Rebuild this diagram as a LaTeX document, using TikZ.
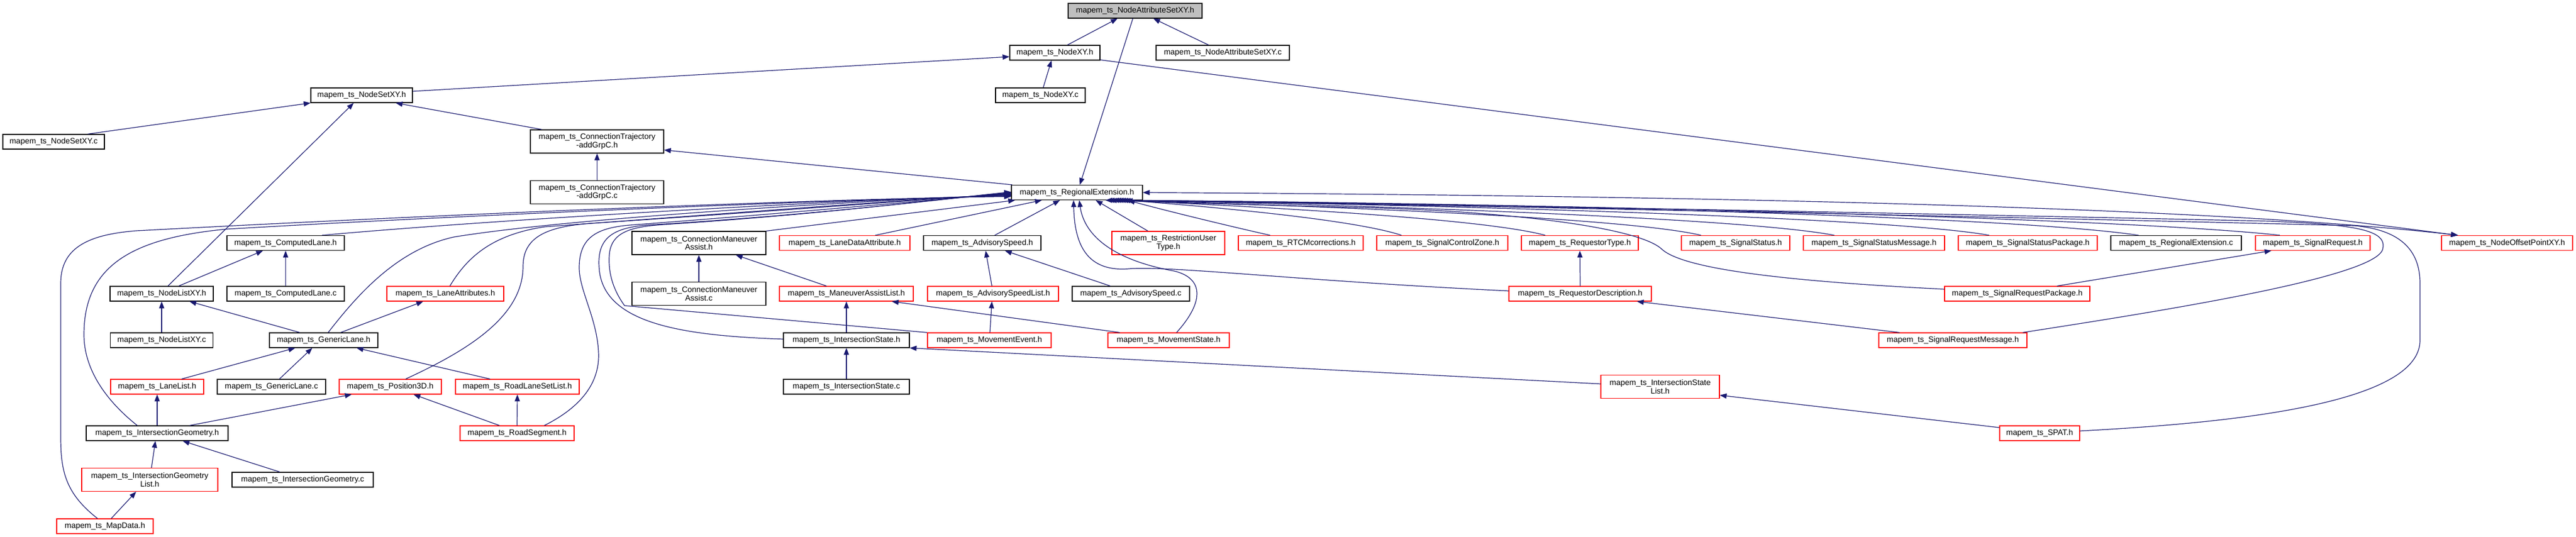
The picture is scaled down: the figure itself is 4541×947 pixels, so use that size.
\documentclass[tikz,border=0pt]{standalone}
\usepackage{fontspec}
\setmainfont{Liberation Sans}
\usetikzlibrary{arrows.meta}
\definecolor{edgeblue}{HTML}{191970}
\definecolor{rootgray}{HTML}{BFBFBF}
\begin{document}
\begin{tikzpicture}[x=1pt,y=-1pt,
  box/.style={rectangle, draw, line width=1.2pt, inner xsep=2pt, inner ysep=0pt, minimum height=26pt, align=center, font=\fontsize{14}{14.5}\selectfont, text=black},
  blk/.style={box, draw=black},
  trunc/.style={box, draw=red},
  tall/.style={minimum height=41pt},
  edge/.style={draw=edgeblue, line width=1.2pt, -{Triangle[length=12pt,width=9pt]}},
  bedge/.style={draw=edgeblue, line width=1.2pt, {Triangle[length=12pt,width=9pt]}-{Triangle[length=12pt,width=9pt]}}
  ]
\useasboundingbox (0,0) rectangle (4541,947);
% nodes
\node[blk, fill=rootgray, minimum width=236pt] (root) at (2001,19) {mapem\_ts\_NodeAttributeSetXY.h};
\node[blk, minimum width=159pt] (nodexyh) at (1859.5,93) {mapem\_ts\_NodeXY.h};
\node[blk, minimum width=235pt] (nasxyc) at (2155.5,93) {mapem\_ts\_NodeAttributeSetXY.c};
\node[blk, minimum width=158pt] (nodexyc) at (1834,168) {mapem\_ts\_NodeXY.c};
\node[blk, minimum width=179pt] (nodesetxyh) at (637.5,168) {mapem\_ts\_NodeSetXY.h};
\node[blk, minimum width=179pt] (nodesetxyc) at (94.5,250) {mapem\_ts\_NodeSetXY.c};
\node[blk, tall, minimum width=235pt] (ctrajh) at (1052.5,249.5) {mapem\_ts\_ConnectionTrajectory\\-addGrpC.h};
\node[blk, tall, minimum width=235pt] (ctrajc) at (1052.5,339) {mapem\_ts\_ConnectionTrajectory\\-addGrpC.c};
\node[blk, minimum width=231pt] (regh) at (1898.5,339.5) {mapem\_ts\_RegionalExtension.h};
% row 6
\node[blk, minimum width=207pt] (complaneh) at (503.5,428.5) {mapem\_ts\_ComputedLane.h};
\node[blk, tall, minimum width=236pt] (cmah) at (1232,428.5) {mapem\_ts\_ConnectionManeuver\\Assist.h};
\node[trunc, minimum width=230pt] (ldah) at (1489,428.5) {mapem\_ts\_LaneDataAttribute.h};
\node[blk, minimum width=207pt] (advh) at (1731.5,428.5) {mapem\_ts\_AdvisorySpeed.h};
\node[trunc, tall, minimum width=199pt] (rut) at (2059.5,428.5) {mapem\_ts\_RestrictionUser\\Type.h};
\node[trunc, minimum width=220pt] (rtcm) at (2293,428.5) {mapem\_ts\_RTCMcorrections.h};
\node[trunc, minimum width=231pt] (scz) at (2542.5,428.5) {mapem\_ts\_SignalControlZone.h};
\node[trunc, minimum width=206pt] (rqt) at (2785,428.5) {mapem\_ts\_RequestorType.h};
\node[trunc, minimum width=191pt] (sst) at (3059.5,428.5) {mapem\_ts\_SignalStatus.h};
\node[trunc, minimum width=249pt] (ssm) at (3303.5,428.5) {mapem\_ts\_SignalStatusMessage.h};
\node[trunc, minimum width=245pt] (ssp) at (3574.5,428.5) {mapem\_ts\_SignalStatusPackage.h};
\node[blk, minimum width=230pt] (regc) at (3836,428.5) {mapem\_ts\_RegionalExtension.c};
\node[trunc, minimum width=202pt] (sreq) at (4077,428.5) {mapem\_ts\_SignalRequest.h};
\node[trunc, minimum width=231pt] (nop) at (4419.5,428.5) {mapem\_ts\_NodeOffsetPointXY.h};
% row 7
\node[blk, minimum width=182pt] (nlxyh) at (285,518) {mapem\_ts\_NodeListXY.h};
\node[blk, minimum width=207pt] (complanec) at (503.5,518) {mapem\_ts\_ComputedLane.c};
\node[trunc, minimum width=206pt] (lattr) at (785,518) {mapem\_ts\_LaneAttributes.h};
\node[blk, tall, minimum width=236pt] (cmac) at (1232,518) {mapem\_ts\_ConnectionManeuver\\Assist.c};
\node[trunc, minimum width=236pt] (mal) at (1492,518) {mapem\_ts\_ManeuverAssistList.h};
\node[trunc, minimum width=231pt] (asl) at (1750.5,518) {mapem\_ts\_AdvisorySpeedList.h};
\node[blk, minimum width=207pt] (advc) at (1993.5,518) {mapem\_ts\_AdvisorySpeed.c};
\node[trunc, minimum width=251pt] (rqd) at (2785.5,518) {mapem\_ts\_RequestorDescription.h};
\node[trunc, minimum width=256pt] (srp) at (3556,518) {mapem\_ts\_SignalRequestPackage.h};
% row 8
\node[blk, minimum width=181pt] (nlxyc) at (285,600) {mapem\_ts\_NodeListXY.c};
\node[blk, minimum width=191pt] (glh) at (570.5,600) {mapem\_ts\_GenericLane.h};
\node[blk, minimum width=222pt] (ish) at (1492,600) {mapem\_ts\_IntersectionState.h};
\node[trunc, minimum width=218pt] (mev) at (1744,600) {mapem\_ts\_MovementEvent.h};
\node[trunc, minimum width=214pt] (mst) at (2060,600) {mapem\_ts\_MovementState.h};
\node[trunc, minimum width=261pt] (srm) at (3442.5,600) {mapem\_ts\_SignalRequestMessage.h};
% row 9
\node[trunc, minimum width=164pt] (llh) at (277,682) {mapem\_ts\_LaneList.h};
\node[blk, minimum width=191pt] (glc) at (478.5,682) {mapem\_ts\_GenericLane.c};
\node[trunc, minimum width=180pt] (p3d) at (688,682) {mapem\_ts\_Position3D.h};
\node[trunc, minimum width=218pt] (rlsl) at (912,682) {mapem\_ts\_RoadLaneSetList.h};
\node[blk, minimum width=222pt] (isc) at (1492,682) {mapem\_ts\_IntersectionState.c};
\node[trunc, tall, minimum width=209pt] (isl) at (2926.5,682) {mapem\_ts\_IntersectionState\\List.h};
% row 10
\node[blk, minimum width=250pt] (igh) at (277,764) {mapem\_ts\_IntersectionGeometry.h};
\node[trunc, minimum width=201pt] (rseg) at (911.5,764) {mapem\_ts\_RoadSegment.h};
\node[trunc, minimum width=141pt] (spat) at (3595.5,764) {mapem\_ts\_SPAT.h};
% row 11
\node[trunc, tall, minimum width=240pt] (igl) at (264,846) {mapem\_ts\_IntersectionGeometry\\List.h};
\node[blk, minimum width=249pt] (igc) at (533.5,846) {mapem\_ts\_IntersectionGeometry.c};
% row 12
\node[trunc, minimum width=170pt] (mapd) at (185,928) {mapem\_ts\_MapData.h};

% simple edges
\draw[edge] ([xshift=22pt]nodexyh.north) -- ([xshift=-31pt]root.south);
\draw[edge] ([xshift=-25pt]nasxyc.north) -- ([xshift=32pt]root.south);
\draw[edge] ([xshift=-4pt]root.south) -- ([xshift=5pt]regh.north);
\draw[edge] ([xshift=5pt]nodexyc.north) -- ([xshift=-6pt]nodexyh.south);
\draw[edge] ([yshift=7pt]nodesetxyh.east) -- ([yshift=-7pt]nodexyh.west);
\draw[edge] ([yshift=1pt]nodexyh.south east) -- ([xshift=29pt]nop.north west);
\draw[edge] ([xshift=60pt]nodesetxyc.north) -- (nodesetxyh.south west);
\draw[edge] ([xshift=11pt]nlxyh.north) -- ([xshift=-14pt]nodesetxyh.south);
\draw[edge] ([xshift=21pt]ctrajh.north west) -- ([xshift=60pt]nodesetxyh.south);
\draw[edge] (ctrajc.north) -- (ctrajh.south);
\draw[edge] ([xshift=2pt]regh.north west) -- ([yshift=-15pt]ctrajh.east);
\draw[edge] ([xshift=30pt]nlxyh.north) -- ([xshift=-40pt]complaneh.south);
\draw[edge] (complanec.north) -- (complaneh.south);
\draw[edge] (nlxyc.north) -- (nlxyh.south);
\draw[edge] ([xshift=-42pt]glh.north) -- ([xshift=49pt]nlxyh.south);
\draw[edge] ([xshift=30pt]glh.north) -- ([xshift=-39pt]lattr.south);
\draw[edge] ([xshift=43pt]llh.north) -- ([xshift=-50pt]glh.south);
\draw[edge] ([xshift=14pt]glc.north) -- ([xshift=-20pt]glh.south);
\draw[edge] ([xshift=-48pt]rlsl.north) -- ([xshift=58pt]glh.south);
\draw[edge] (igh.north) -- (llh.south);
\draw[edge] ([xshift=57pt]igh.north) -- ([xshift=-68pt]p3d.south);
\draw[edge] ([xshift=3pt]igl.north) -- ([xshift=-3pt]igh.south);
\draw[edge] ([xshift=-40pt]igc.north) -- ([xshift=45pt]igh.south);
\draw[edge] ([xshift=11pt]mapd.north) -- ([xshift=-24pt]igl.south);
\draw[edge] (rseg.north) -- (rlsl.south);
\draw[edge] ([xshift=-31pt]rseg.north) -- ([xshift=41pt]p3d.south);
\draw[edge] (cmac.north) -- (cmah.south);
\draw[edge] ([xshift=-35pt]mal.north) -- ([xshift=65pt]cmah.south);
\draw[edge] (ish.north) -- (mal.south);
\draw[edge] (isc.north) -- (ish.south);
\draw[edge] ([yshift=5pt]isl.west) -- (ish.south east);
\draw[edge] ([xshift=-2pt]asl.north) -- ([xshift=6pt]advh.south);
\draw[edge] ([xshift=-36pt]advc.north) -- ([xshift=40pt]advh.south);
\draw[edge] ([xshift=1pt]mev.north) -- ([xshift=-2pt]asl.south);
\draw[edge] ([xshift=-86pt]mst.north) -- ([xshift=80pt]mal.south);
\draw[edge] (rqd.north) -- (rqt.south);
\draw[edge] ([xshift=-94pt]srm.north) -- ([xshift=100pt]rqd.south);
\draw[edge] ([xshift=70pt]srp.north) -- ([xshift=-73pt]sreq.south);
\draw[edge] ([yshift=10pt]spat.west) -- ([yshift=-15pt]isl.east);

% edges into RegionalExtension.h from the left
\draw[edge] ([xshift=-13pt]mapd.north) .. controls (115,870) and (107,830) .. (107,770) -- (107,500) .. controls (107,440) and (150,414) .. (240,407) .. controls (900,372) and (1500,350) .. ([yshift=-7pt]regh.west);
\draw[edge] ([xshift=-35pt]igh.north) .. controls (185,705) and (148,650) .. (148,590) .. controls (148,470) and (230,420) .. (400,404) .. controls (900,375) and (1500,352) .. ([yshift=-6pt]regh.west);
\draw[edge] ([xshift=64pt]complaneh.north) .. controls (900,385) and (1500,352) .. ([yshift=-5pt]regh.west);
\draw[edge] ([xshift=8pt]glh.north) .. controls (630,520) and (700,440) .. (800,418) .. controls (1000,385) and (1500,355) .. ([yshift=-4pt]regh.west);
\draw[edge] ([xshift=8pt]lattr.north) .. controls (820,460) and (860,415) .. (960,400) .. controls (1300,375) and (1600,352) .. ([yshift=-3pt]regh.west);
\draw[edge] ([xshift=27pt]p3d.north) .. controls (820,620) and (922,560) .. (922,470) .. controls (922,420) and (960,400) .. (1040,394) .. controls (1400,370) and (1650,350) .. ([yshift=-2pt]regh.west);
\draw[edge] ([xshift=48pt]rseg.north) .. controls (1030,715) and (1058,670) .. (1055,620) .. controls (1052,560) and (1020,510) .. (1021,470) .. controls (1022,420) and (1050,402) .. (1110,397) .. controls (1400,375) and (1650,352) .. ([yshift=-1pt]regh.west);
\draw[edge] ([yshift=2pt]ish.west) .. controls (1200,592) and (1060,570) .. (1056,470) .. controls (1053,420) and (1080,402) .. (1140,397) .. controls (1450,378) and (1650,352) .. (regh.west);
\draw[edge] (mev.north west) -- (1101,539) .. controls (1080,510) and (1072,480) .. (1074,450) .. controls (1077,410) and (1110,400) .. (1170,396) .. controls (1450,378) and (1650,352) .. ([yshift=1pt]regh.west);

% edges into RegionalExtension.h from below
\draw[edge] (cmah.north east) -- ([xshift=7pt]regh.south west);
\draw[edge] ([xshift=54pt]ldah.north) -- ([xshift=-62pt]regh.south);
\draw[edge] ([xshift=22pt]advh.north) -- ([xshift=-30pt]regh.south);
\draw[edge] ([xshift=-36pt]rut.north) -- ([xshift=33pt]regh.south);
\draw[edge] ([yshift=5pt]rqd.west) .. controls (2300,496) and (2060,468) .. (1990,474) .. controls (1915,480) and (1894,430) .. ([xshift=-6pt]regh.south);
\draw[edge] ([xshift=14pt]mst.north) .. controls (2125,530) and (2120,490) .. (2070,478) .. controls (1970,460) and (1912,420) .. ([xshift=4pt]regh.south);

% edges into RegionalExtension.h from the right
\draw[edge] ([xshift=-54pt]rtcm.north) .. controls (2150,395) and (2030,365) .. ([xshift=90pt]regh.south);
\draw[edge] ([xshift=-72pt]scz.north) .. controls (2380,385) and (2100,362) .. ([xshift=86pt]regh.south);
\draw[edge] ([xshift=-61pt]rqt.north) .. controls (2600,382) and (2150,362) .. ([xshift=82pt]regh.south);
\draw[edge] ([xshift=-61pt]sst.north) .. controls (2850,380) and (2200,360) .. ([xshift=78pt]regh.south);
\draw[edge] ([xshift=-70pt]ssm.north) .. controls (3050,380) and (2250,358) .. ([xshift=74pt]regh.south);
\draw[edge] ([xshift=-68pt]ssp.north) .. controls (3300,378) and (2300,357) .. ([xshift=70pt]regh.south);
\draw[edge] ([xshift=-66pt]regc.north) .. controls (3500,375) and (2400,356) .. ([xshift=66pt]regh.south);
\draw[edge] ([xshift=-58pt]sreq.north) .. controls (3700,380) and (2500,356) .. ([xshift=62pt]regh.south);
\draw[edge] ([yshift=8pt]srp.west) .. controls (3150,496) and (2970,475) .. (2930,440) .. controls (2890,400) and (2650,372) .. (2400,366) .. controls (2200,361) and (2050,357) .. ([xshift=58pt]regh.south);
\draw[edge] ([xshift=-8pt]srm.north east) .. controls (3800,550) and (4185,490) .. (4200,440) .. controls (4210,405) and (4150,396) .. (4000,390) .. controls (3000,368) and (2300,357) .. ([xshift=54pt]regh.south);
\draw[edge] ([yshift=4pt]spat.east) .. controls (3950,745) and (4266,710) .. (4266,600) -- (4266,500) .. controls (4266,440) and (4230,405) .. (4150,398) .. controls (3000,370) and (2300,358) .. ([xshift=50pt]regh.south);
\draw[bedge] (regh.east) .. controls (3000,345) and (3900,365) .. ([xshift=30pt]nop.north west);
\end{tikzpicture}
\end{document}
